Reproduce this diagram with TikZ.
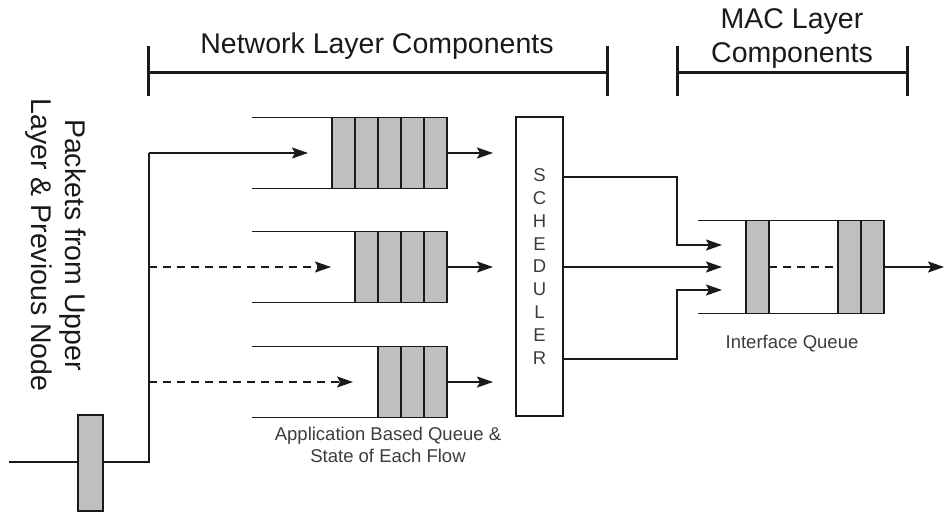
\documentclass[tikz,border=0pt]{standalone}
\usepackage{fontspec}
\setmainfont{Liberation Sans}
\usetikzlibrary{arrows.meta}
\definecolor{ink}{HTML}{1A1A1A}
\definecolor{cellgray}{HTML}{BFBFBF}
\begin{document}
\begin{tikzpicture}[x=1pt,y=-1pt,
  ln/.style={line width=1.9pt, draw=ink},
  tip/.style={-{Stealth[length=16pt,width=11pt,inset=3pt]}},
  arr/.style={ln, tip},
  dsh/.style={ln, dash pattern=on 8pt off 6pt},
  darr/.style={dsh, tip},
  brk/.style={line width=3pt, draw=ink},
  cell/.style={draw=ink, line width=1.9pt, fill=cellgray, minimum width=23pt,
    minimum height=71pt, inner sep=0pt, outer sep=0pt, anchor=west},
  icell/.style={cell, minimum height=93pt},
  big/.style={font=\fontsize{28.5}{34}\selectfont, text=ink, inner sep=0pt},
  small/.style={font=\fontsize{18.5}{22}\selectfont, text=ink!85, inner sep=0pt}]
\useasboundingbox (0,0) rectangle (944,511);

% ---- layer brackets ----
\coordinate (nl) at (148,72);
\coordinate (nr) at (607,72);
\coordinate (ml) at (677,72);
\coordinate (mr) at (907,72);
\draw[brk] (nl) -- (nr);
\draw[brk] ([yshift=-24pt]nl) -- ([yshift=26pt]nl);
\draw[brk] ([yshift=-24pt]nr) -- ([yshift=26pt]nr);
\draw[brk] (ml) -- (mr);
\draw[brk] ([yshift=-24pt]ml) -- ([yshift=26pt]ml);
\draw[brk] ([yshift=-24pt]mr) -- ([yshift=26pt]mr);
\node[big, anchor=base] (nettitle) at (377,53) {Network Layer Components};
% a multi-line node's base is the baseline of its last line
\node[big, anchor=base, align=center] (mactitle) at (792,63) {MAC Layer\\Components};

% ---- incoming packets ----
\node[big, rotate=-90, align=center] (srclabel) at (56,245)
  {Packets from Upper\\Layer \& Previous Node};
\coordinate (inL) at (9,462);
\node[draw=ink, line width=1.9pt, fill=cellgray, minimum width=25pt,
  minimum height=96pt, inner sep=0pt, outer sep=0pt] (inbox) at (90.5,463) {};
\coordinate (bus0) at (149,462);
\coordinate (bus1) at (149,153);
\coordinate (bus2) at (149,267);
\coordinate (bus3) at (149,382);
\draw[ln] (inL) -- (inL -| inbox.west);
\draw[ln] (inbox.east |- bus0) -- (bus0) -- (bus1);

% ---- application based queues ----
\node[cell] (q1a) at (332,153) {};
\node[cell] (q1b) at (q1a.east) {};
\node[cell] (q1c) at (q1b.east) {};
\node[cell] (q1d) at (q1c.east) {};
\node[cell] (q1e) at (q1d.east) {};

\node[cell] (q2a) at (355,267) {};
\node[cell] (q2b) at (q2a.east) {};
\node[cell] (q2c) at (q2b.east) {};
\node[cell] (q2d) at (q2c.east) {};

\node[cell] (q3a) at (378,382) {};
\node[cell] (q3b) at (q3a.east) {};
\node[cell] (q3c) at (q3b.east) {};

% queue walls
\draw[ln] (252,117.5) -- (q1a.north west);
\draw[ln] (252,188.5) -- (q1a.south west);
\draw[ln] (252,231.5) -- (q2a.north west);
\draw[ln] (252,302.5) -- (q2a.south west);
\draw[ln] (252,346.5) -- (q3a.north west);
\draw[ln] (252,417.5) -- (q3a.south west);

% flows into the queues
\coordinate (q1in) at (308,153);
\coordinate (q2in) at (331,267);
\coordinate (q3in) at (353,382);
\draw[arr] (bus1) -- (q1in);
\draw[darr] (bus2) -- (q2in);
\draw[darr] (bus3) -- (q3in);

% ---- scheduler ----
\node[draw=ink, line width=1.9pt, minimum width=47pt, minimum height=299pt,
  inner sep=0pt, outer sep=0pt] (sched) at (539.5,266.5) {};
\node[font=\fontsize{18.5}{22.9}\selectfont, text=ink!85, align=center, inner sep=0pt]
  (schedtxt) at (sched.center) {S\\C\\H\\E\\D\\U\\L\\E\\R};

\coordinate (s1) at (493,153);
\coordinate (s2) at (493,267);
\coordinate (s3) at (493,382);
\draw[arr] (q1e.east) -- (s1);
\draw[arr] (q2d.east) -- (s2);
\draw[arr] (q3c.east) -- (s3);

\node[small, anchor=base, align=center] (appq) at (388,462)
  {Application Based Queue \&\\State of Each Flow};

% ---- interface queue ----
\node[icell] (i1) at (746,267) {};
\node[icell] (i2) at (838,267) {};
\node[icell] (i3) at (i2.east) {};
\draw[ln] (698,220.5) -- (i3.north east);
\draw[ln] (698,313.5) -- (i3.south east);
\draw[dsh] (i1.east) -- (i2.west);

\coordinate (o1) at (563,177);
\coordinate (o2) at (563,267);
\coordinate (o3) at (563,359);
\coordinate (t1) at (722,245);
\coordinate (t2) at (722,267);
\coordinate (t3) at (722,290);
\draw[arr] (o1) -| (677,245) -- (t1);
\draw[arr] (o2) -- (t2);
\draw[arr] (o3) -| (677,290) -- (t3);

\coordinate (out) at (944,267);
\draw[arr] (i3.east) -- (out);

\node[small, anchor=base] (ifq) at (792,348) {Interface Queue};
\end{tikzpicture}
\end{document}
